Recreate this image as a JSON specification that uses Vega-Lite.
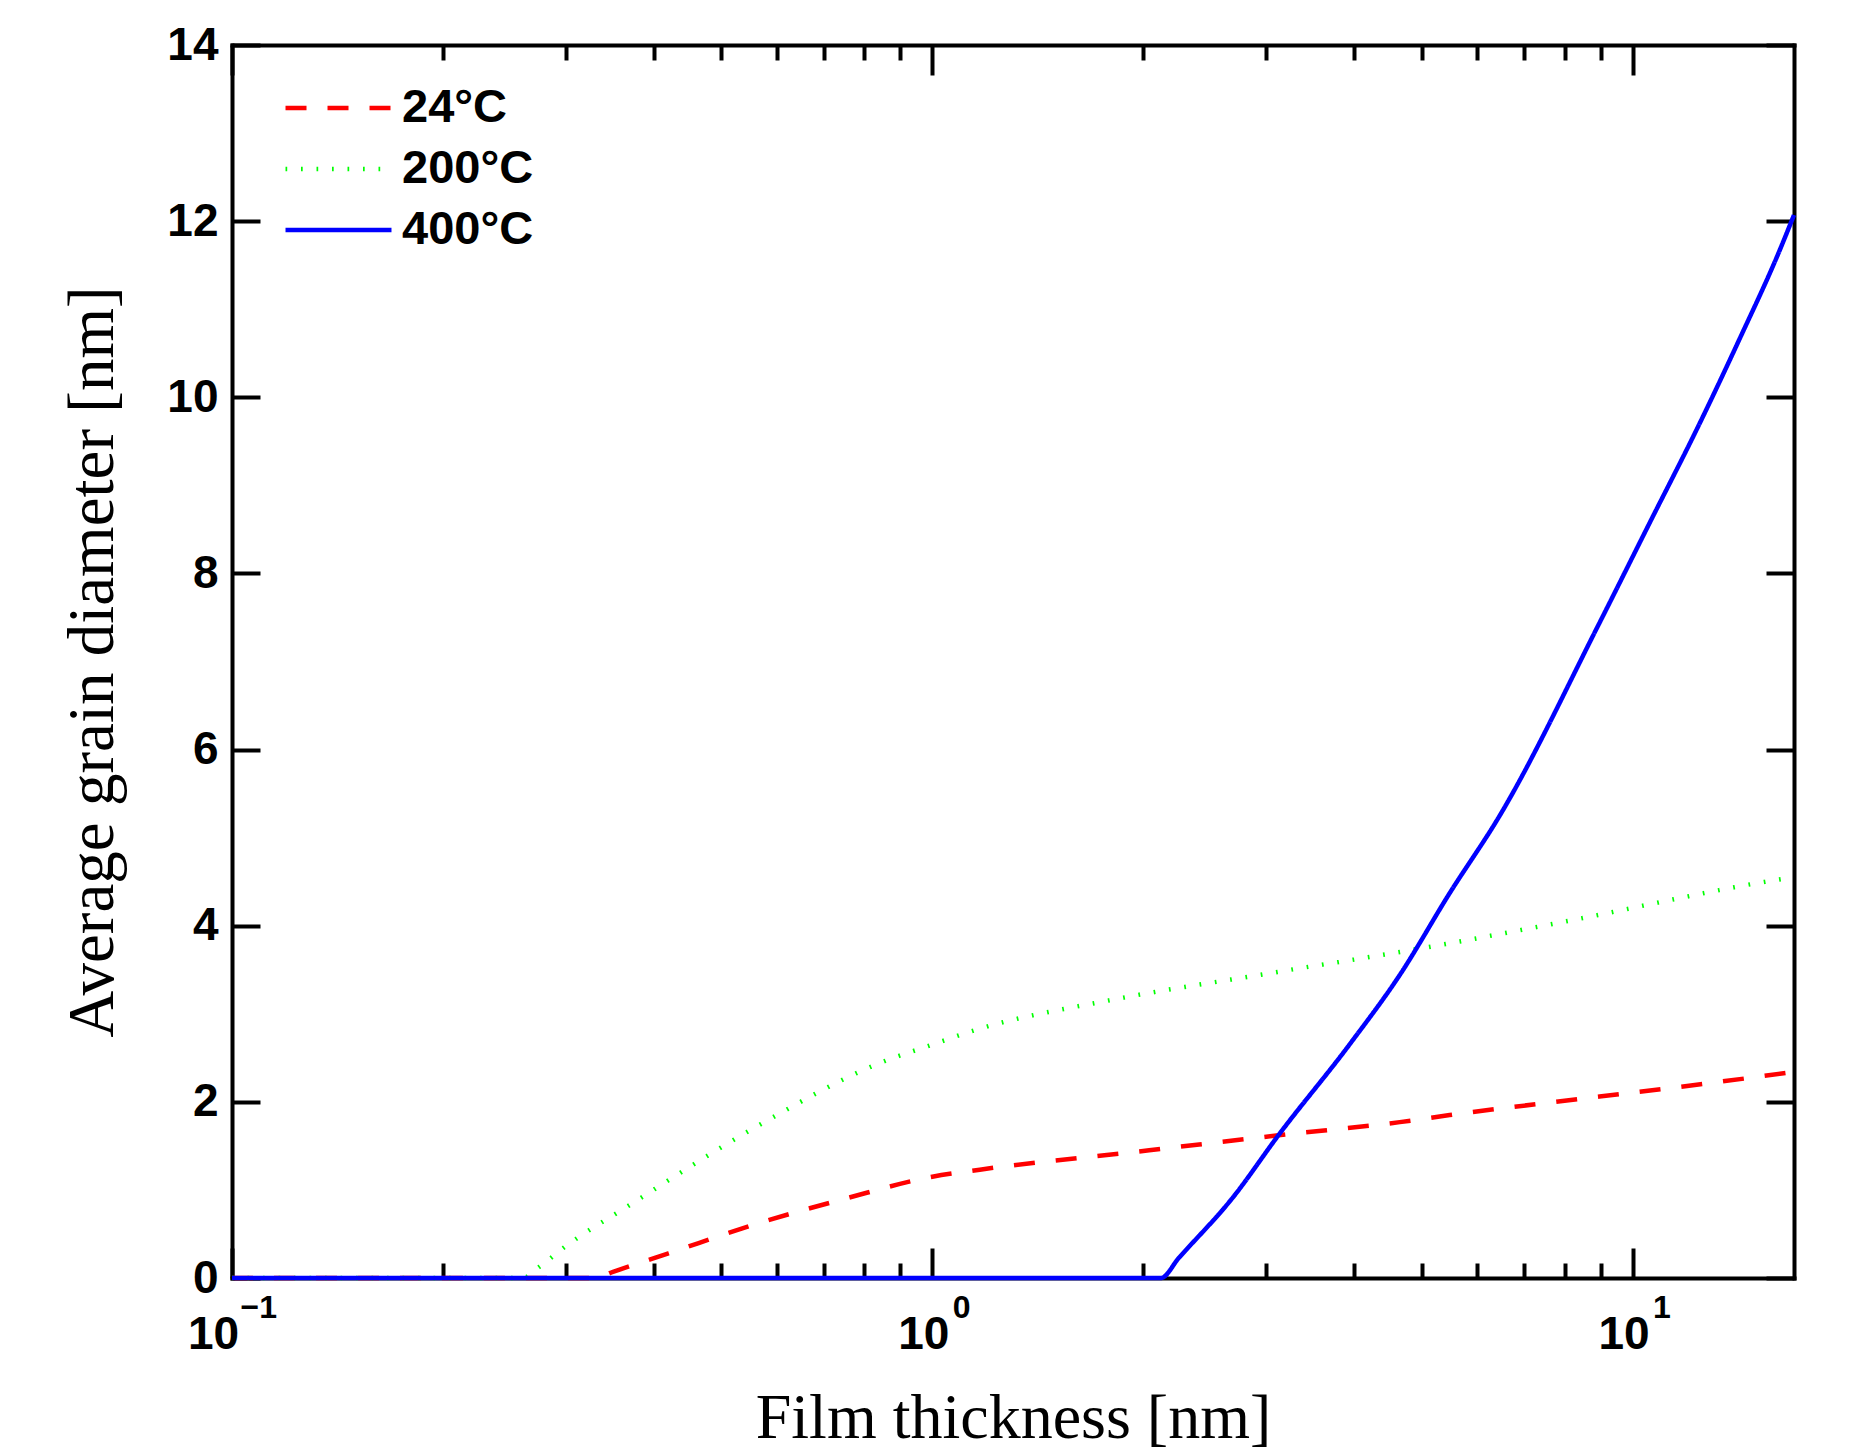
{
  "$schema": "https://vega.github.io/schema/vega-lite/v6.json",
  "width": 1562,
  "height": 1233,
  "autosize": {"type": "none"},
  "padding": {"left": 232, "top": 45, "right": 59, "bottom": 176},
  "background": "white",
  "config": {
    "view": {"stroke": null},
    "axis": {"labelFlush": false, "labelOverlap": false, "grid": false, "domainColor": "black", "domainWidth": 4, "domainCap": "square", "tickColor": "black", "tickWidth": 4, "labelColor": "black", "titleColor": "black"}
  },
  "data": {
    "values": [
      {"t": "24°C", "x": 0.1, "y": 0},
      {"t": "24°C", "x": 0.33, "y": 0},
      {"t": "24°C", "x": 0.35, "y": 0.07},
      {"t": "24°C", "x": 0.42, "y": 0.28},
      {"t": "24°C", "x": 0.564, "y": 0.62},
      {"t": "24°C", "x": 0.754, "y": 0.905},
      {"t": "24°C", "x": 1.0, "y": 1.15},
      {"t": "24°C", "x": 1.169, "y": 1.23},
      {"t": "24°C", "x": 2.04, "y": 1.45},
      {"t": "24°C", "x": 3.12, "y": 1.62},
      {"t": "24°C", "x": 4.65, "y": 1.77},
      {"t": "24°C", "x": 5.48, "y": 1.85},
      {"t": "24°C", "x": 8.97, "y": 2.06},
      {"t": "24°C", "x": 12.5, "y": 2.2},
      {"t": "24°C", "x": 17, "y": 2.34},
      {"t": "200°C", "x": 0.1, "y": 0},
      {"t": "200°C", "x": 0.26, "y": 0},
      {"t": "200°C", "x": 0.275, "y": 0.13},
      {"t": "200°C", "x": 0.299, "y": 0.355},
      {"t": "200°C", "x": 0.37, "y": 0.83},
      {"t": "200°C", "x": 0.567, "y": 1.74},
      {"t": "200°C", "x": 0.841, "y": 2.44},
      {"t": "200°C", "x": 1.0, "y": 2.65},
      {"t": "200°C", "x": 1.157, "y": 2.82},
      {"t": "200°C", "x": 1.81, "y": 3.16},
      {"t": "200°C", "x": 3.03, "y": 3.46},
      {"t": "200°C", "x": 5.48, "y": 3.8},
      {"t": "200°C", "x": 8.04, "y": 4.05},
      {"t": "200°C", "x": 16.67, "y": 4.54},
      {"t": "200°C", "x": 17, "y": 4.55},
      {"t": "400°C", "x": 0.1, "y": 0},
      {"t": "400°C", "x": 2.12, "y": 0},
      {"t": "400°C", "x": 2.25, "y": 0.23},
      {"t": "400°C", "x": 2.69, "y": 0.92},
      {"t": "400°C", "x": 3.12, "y": 1.62},
      {"t": "400°C", "x": 3.95, "y": 2.66},
      {"t": "400°C", "x": 4.65, "y": 3.44},
      {"t": "400°C", "x": 5.48, "y": 4.37},
      {"t": "400°C", "x": 6.46, "y": 5.25},
      {"t": "400°C", "x": 8.97, "y": 7.44},
      {"t": "400°C", "x": 10.57, "y": 8.57},
      {"t": "400°C", "x": 12.46, "y": 9.7},
      {"t": "400°C", "x": 14.21, "y": 10.66},
      {"t": "400°C", "x": 16.22, "y": 11.67},
      {"t": "400°C", "x": 17, "y": 12.07}
    ]
  },
  "resolve": {"axis": {"x": "independent", "y": "independent"}},
  "layer": [
    {
      "mark": {"type": "line", "strokeWidth": 4.5, "interpolate": "monotone"},
      "encoding": {
        "x": {
          "field": "x", "type": "quantitative",
          "scale": {"type": "log", "domain": [0.1, 17], "nice": false},
          "axis": {
            "orient": "bottom",
            "title": "Film thickness [nm]",
            "values": [0.1, 1, 10],
            "labelExpr": "'10'",
            "tickSize": -30,
            "labelPadding": 64,
            "labelOffset": {"condition": {"test": "datum.value < 0.5", "value": -19}, "value": -9},
            "labelFont": "Liberation Sans", "labelFontWeight": "bold", "labelFontSize": 46,
            "titleFont": "Liberation Serif", "titleFontWeight": "normal", "titleFontSize": 64,
            "titlePadding": 29
          }
        },
        "y": {
          "field": "y", "type": "quantitative",
          "scale": {"domain": [0, 14], "nice": false},
          "axis": {
            "orient": "left",
            "title": "Average grain diameter [nm]",
            "values": [0, 2, 4, 6, 8, 10, 12, 14],
            "tickSize": -28,
            "labelPadding": 42,
            "labelFont": "Liberation Sans", "labelFontWeight": "bold", "labelFontSize": 46,
            "titleFont": "Liberation Serif", "titleFontWeight": "normal", "titleFontSize": 65,
            "titlePadding": 40
          }
        },
        "color": {
          "field": "t", "type": "nominal",
          "scale": {"domain": ["24°C", "200°C", "400°C"], "range": ["#ff0000", "#00ff00", "#0000ff"]},
          "legend": {"orient": "none", "legendX": 83, "legendY": 39.5, "title": null, "symbolType": "M-3,0H3", "symbolSize": 1248, "symbolStrokeWidth": 4.5, "labelFont": "Liberation Sans", "labelFontWeight": "bold", "labelFontSize": 47, "labelColor": "black", "labelOffset": 40, "rowPadding": 13, "padding": 0}
        },
        "strokeDash": {
          "field": "t", "type": "nominal",
          "scale": {"domain": ["24°C", "200°C", "400°C"], "range": [[21, 21], [1.7, 13.8], [1, 0]]},
          "legend": {"orient": "none", "legendX": 83, "legendY": 39.5, "title": null, "symbolType": "M-3,0H3", "symbolSize": 1248, "symbolStrokeWidth": 4.5, "labelFont": "Liberation Sans", "labelFontWeight": "bold", "labelFontSize": 47, "labelColor": "black", "labelOffset": 40, "rowPadding": 13, "padding": 0}
        }
      }
    },
    {
      "mark": {"type": "line", "strokeOpacity": 0},
      "encoding": {
        "x": {
          "field": "x", "type": "quantitative",
          "scale": {"type": "log", "domain": [0.1, 17], "nice": false},
          "axis": {"orient": "top", "title": null, "labels": false, "values": [0.1, 1, 10], "tickSize": -30}
        },
        "y": {
          "field": "y", "type": "quantitative",
          "scale": {"domain": [0, 14], "nice": false},
          "axis": {"orient": "right", "title": null, "labels": false, "values": [0, 2, 4, 6, 8, 10, 12, 14], "tickSize": -28}
        }
      }
    },
    {
      "mark": {"type": "line", "strokeOpacity": 0},
      "encoding": {
        "x": {
          "field": "x", "type": "quantitative",
          "scale": {"type": "log", "domain": [0.1, 17], "nice": false},
          "axis": {"orient": "bottom", "title": null, "labels": false, "domain": false, "values": [0.2, 0.3, 0.4, 0.5, 0.6, 0.7, 0.8, 0.9, 2, 3, 4, 5, 6, 7, 8, 9], "tickSize": -15}
        },
        "y": {"field": "y", "type": "quantitative", "scale": {"domain": [0, 14], "nice": false}, "axis": null}
      }
    },
    {
      "mark": {"type": "line", "strokeOpacity": 0},
      "encoding": {
        "x": {
          "field": "x", "type": "quantitative",
          "scale": {"type": "log", "domain": [0.1, 17], "nice": false},
          "axis": {"orient": "top", "title": null, "labels": false, "domain": false, "values": [0.2, 0.3, 0.4, 0.5, 0.6, 0.7, 0.8, 0.9, 2, 3, 4, 5, 6, 7, 8, 9], "tickSize": -15}
        },
        "y": {"field": "y", "type": "quantitative", "scale": {"domain": [0, 14], "nice": false}, "axis": null}
      }
    },
    {
      "mark": {"type": "line", "strokeOpacity": 0},
      "encoding": {
        "x": {
          "field": "x", "type": "quantitative",
          "scale": {"type": "log", "domain": [0.1, 17], "nice": false},
          "axis": {
            "orient": "bottom", "title": null, "domain": false, "ticks": false,
            "values": [0.1, 1, 10],
            "labelExpr": "datum.value < 0.5 ? '−1' : (datum.value < 5 ? '0' : '1')",
            "labelAlign": "left",
            "labelPadding": 14,
            "labelOffset": {"condition": {"test": "datum.value < 0.5", "value": 8}, "value": 20},
            "labelFont": "Liberation Sans", "labelFontWeight": "bold", "labelFontSize": 32
          }
        },
        "y": {"field": "y", "type": "quantitative", "scale": {"domain": [0, 14], "nice": false}, "axis": null}
      }
    }
  ]
}
